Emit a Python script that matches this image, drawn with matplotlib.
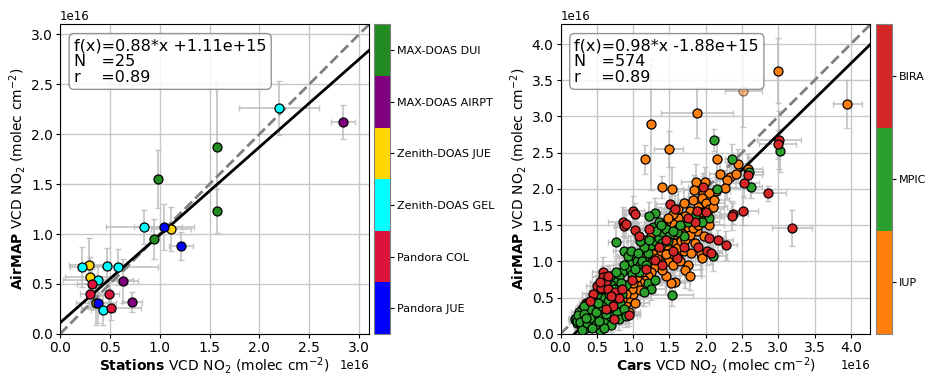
import numpy as np
import matplotlib.pyplot as plt
from matplotlib.colors import ListedColormap, BoundaryNorm
from matplotlib.cm import ScalarMappable
from matplotlib.ticker import MultipleLocator

SCALE = 1e16

# Stations panel: (x, y, xerr, yerr) in units of 1e16 molec cm-2
station_names = ["Pandora JUE", "Pandora COL", "Zenith-DOAS GEL",
                 "Zenith-DOAS JUE", "MAX-DOAS AIRPT", "MAX-DOAS DUI"]
station_colors = ["blue", "crimson", "cyan", "gold", "purple", "forestgreen"]
zen_jue = [(1.11, 1.05, 0.20, 0.22), (0.29, 0.69, 0.20, 0.27),
           (0.30, 0.57, 0.25, 0.20), (0.36, 0.31, 0.20, 0.22)]
pandora_jue = [(1.04, 1.07, 0.30, 0.23), (1.21, 0.88, 0.12, 0.14),
               (0.38, 0.31, 0.10, 0.20)]
zen_gel = [(2.20, 2.26, 0.40, 0.27), (0.84, 1.07, 0.38, 0.17),
           (0.22, 0.67, 0.12, 0.20), (0.47, 0.68, 0.20, 0.18),
           (0.585, 0.67, 0.40, 0.18), (0.38, 0.54, 0.35, 0.15),
           (0.435, 0.24, 0.12, 0.15)]
pandora_col = [(0.32, 0.50, 0.15, 0.22), (0.30, 0.40, 0.10, 0.15),
               (0.49, 0.40, 0.10, 0.12), (0.51, 0.26, 0.30, 0.12)]
maxdoas_airpt = [(2.84, 2.12, 0.12, 0.17), (0.635, 0.53, 0.15, 0.22),
                 (0.72, 0.32, 0.10, 0.10)]
maxdoas_dui = [(0.98, 1.55, 0.02, 0.29), (1.575, 1.87, 0.02, 0.66),
               (1.57, 1.23, 0.02, 0.22), (0.94, 0.95, 0.03, 0.20)]
station_series = [(zen_jue, "gold"), (pandora_jue, "blue"), (zen_gel, "cyan"),
                  (pandora_col, "crimson"), (maxdoas_airpt, "purple"),
                  (maxdoas_dui, "forestgreen")]
station_fit = (0.88, 1.11e15)
station_n, station_r = 25, 0.89

# Cars panel
car_names = ["IUP", "MPIC", "BIRA"]
car_colors = ["#ff7f0e", "#2ca02c", "#d62728"]
iup = [(3.00, 3.63, 0.02, 0.45), (3.95, 3.17, 0.20, 0.33), (1.88, 3.05, 0.50, 0.35),
       (1.24, 2.89, 0.05, 0.90), (1.49, 2.55, 0.20, 0.25), (1.17, 2.41, 0.03, 0.20),
       (2.15, 2.42, 0.05, 0.30), (2.45, 2.35, 0.10, 0.20), (1.40, 2.03, 0.05, 0.15),
       (1.54, 2.00, 0.15, 0.30), (1.86, 2.10, 0.20, 0.25), (1.99, 2.10, 0.15, 0.20),
       (1.84, 1.99, 0.15, 0.20), (1.96, 1.93, 0.20, 0.25), (2.20, 2.21, 0.15, 0.20),
       (2.33, 2.17, 0.20, 0.15), (2.42, 2.21, 0.10, 0.20), (2.29, 2.12, 0.15, 0.25),
       (2.58, 2.28, 0.20, 0.20), (2.27, 2.01, 0.25, 0.25), (2.14, 1.97, 0.20, 0.20),
       (2.05, 1.95, 0.15, 0.20), (1.95, 1.88, 0.20, 0.25), (2.00, 1.80, 0.25, 0.20),
       (2.05, 1.72, 0.20, 0.25), (1.90, 1.75, 0.15, 0.20), (1.85, 1.65, 0.20, 0.25),
       (1.78, 1.70, 0.20, 0.20), (1.72, 1.62, 0.15, 0.25), (1.68, 1.55, 0.20, 0.20),
       (1.62, 1.60, 0.15, 0.20), (1.55, 1.52, 0.20, 0.25), (1.60, 1.45, 0.20, 0.20),
       (1.50, 1.42, 0.15, 0.20), (1.45, 1.35, 0.20, 0.25), (1.52, 1.30, 0.20, 0.20),
       (1.40, 1.28, 0.15, 0.20), (1.35, 1.22, 0.20, 0.20), (1.30, 1.18, 0.15, 0.25),
       (1.42, 1.15, 0.20, 0.20), (1.50, 1.20, 0.15, 0.20), (1.58, 1.25, 0.20, 0.25),
       (1.65, 1.32, 0.20, 0.20), (1.70, 1.40, 0.15, 0.20), (1.75, 1.48, 0.20, 0.25),
       (1.80, 1.55, 0.20, 0.20), (1.92, 1.58, 0.15, 0.20), (2.00, 1.62, 0.20, 0.25),
       (2.10, 1.75, 0.20, 0.20), (1.68, 1.22, 0.15, 0.20), (1.62, 1.12, 0.20, 0.25),
       (1.55, 1.08, 0.20, 0.20), (1.48, 1.00, 0.15, 0.20), (1.38, 0.98, 0.20, 0.25),
       (1.30, 0.92, 0.20, 0.20), (1.25, 0.85, 0.15, 0.20), (1.20, 0.80, 0.20, 0.20),
       (1.15, 0.75, 0.20, 0.25), (1.10, 0.72, 0.15, 0.20), (1.05, 0.68, 0.20, 0.20),
       (1.22, 1.02, 0.20, 0.20), (1.18, 1.30, 0.15, 0.25), (1.25, 1.35, 0.20, 0.20),
       (1.45, 1.55, 0.20, 0.25), (1.35, 1.45, 0.15, 0.20), (1.55, 1.65, 0.20, 0.20),
       (1.62, 1.72, 0.20, 0.25), (1.88, 1.42, 0.20, 0.20), (1.93, 1.10, 0.25, 0.20),
       (1.95, 1.05, 0.20, 0.25), (1.75, 0.95, 0.20, 0.20), (1.72, 0.88, 0.20, 0.25),
       (1.78, 0.80, 0.15, 0.20), (1.58, 0.72, 0.20, 0.20), (1.52, 0.70, 0.20, 0.20),
       (1.45, 0.80, 0.20, 0.25), (1.40, 0.88, 0.15, 0.20), (1.55, 0.95, 0.20, 0.20),
       (1.65, 1.00, 0.20, 0.25), (1.85, 1.25, 0.20, 0.20), (1.98, 1.35, 0.15, 0.20),
       (1.70, 1.15, 0.20, 0.20), (0.50, 0.45, 0.15, 0.15), (0.55, 0.40, 0.15, 0.15),
       (0.60, 0.48, 0.20, 0.15), (0.65, 0.42, 0.15, 0.20), (0.70, 0.47, 0.15, 0.15),
       (0.75, 0.38, 0.20, 0.15), (0.80, 0.44, 0.15, 0.20), (0.85, 0.36, 0.15, 0.15),
       (0.90, 0.42, 0.20, 0.15), (0.95, 0.50, 0.15, 0.20), (1.00, 0.55, 0.20, 0.15),
       (0.62, 0.55, 0.15, 0.15), (0.72, 0.58, 0.15, 0.20), (0.82, 0.60, 0.20, 0.15),
       (0.92, 0.62, 0.15, 0.20), (0.45, 0.35, 0.15, 0.15), (0.40, 0.30, 0.10, 0.15),
       (0.52, 0.30, 0.15, 0.10), (0.58, 0.25, 0.15, 0.15), (0.68, 0.32, 0.15, 0.15),
       (0.88, 0.28, 0.20, 0.15), (0.95, 0.30, 0.15, 0.15), (0.35, 0.42, 0.10, 0.15),
       (0.30, 0.35, 0.10, 0.10), (1.02, 0.42, 0.20, 0.15), (1.10, 0.60, 0.20, 0.20),
       (0.78, 0.52, 0.15, 0.15), (1.12, 0.98, 0.20, 0.20), (1.18, 1.08, 0.15, 0.20),
       (1.28, 1.10, 0.20, 0.20), (1.33, 1.05, 0.15, 0.20), (1.38, 1.15, 0.20, 0.20),
       (1.46, 1.22, 0.15, 0.20), (1.52, 1.12, 0.20, 0.20), (1.60, 1.18, 0.20, 0.20),
       (1.66, 1.28, 0.15, 0.20), (1.72, 1.30, 0.20, 0.20), (1.78, 1.36, 0.20, 0.20),
       (1.82, 1.46, 0.15, 0.20), (1.90, 1.50, 0.20, 0.20), (1.98, 1.55, 0.20, 0.20),
       (2.05, 1.50, 0.20, 0.20), (1.82, 1.85, 0.20, 0.20), (1.70, 1.80, 0.15, 0.20),
       (1.48, 1.60, 0.20, 0.20), (1.42, 1.48, 0.20, 0.20), (1.36, 1.38, 0.15, 0.20),
       (1.26, 1.26, 0.20, 0.20), (1.20, 1.20, 0.15, 0.20), (0.98, 0.62, 0.15, 0.15),
       (1.05, 0.78, 0.20, 0.15), (1.12, 0.85, 0.15, 0.20), (1.00, 0.70, 0.15, 0.15),
       (0.90, 0.55, 0.15, 0.15), (0.84, 0.48, 0.15, 0.15), (0.76, 0.45, 0.15, 0.15),
       (0.68, 0.52, 0.15, 0.15), (0.60, 0.40, 0.15, 0.15), (0.54, 0.50, 0.15, 0.15),
       (0.46, 0.42, 0.15, 0.15), (0.42, 0.25, 0.10, 0.15), (1.45, 1.10, 0.20, 0.20),
       (1.58, 1.38, 0.20, 0.20), (1.64, 1.48, 0.20, 0.20), (1.92, 1.68, 0.20, 0.20),
       (2.12, 1.85, 0.20, 0.20), (1.80, 1.12, 0.20, 0.20)]
iup_faint = [(2.52, 3.35, 0.25, 0.50)]
mpic = [(2.11, 2.68, 0.03, 0.15), (2.36, 2.42, 0.10, 0.20), (2.59, 2.24, 0.20, 0.20),
        (2.62, 2.02, 0.15, 0.15), (3.02, 2.53, 0.05, 0.30), (2.16, 2.00, 0.15, 0.20),
        (0.76, 1.27, 0.10, 0.20), (0.87, 1.15, 0.15, 0.20), (1.53, 0.54, 0.30, 0.15),
        (1.30, 1.67, 0.15, 0.20), (1.22, 1.62, 0.15, 0.20), (2.05, 1.60, 0.20, 0.20),
        (2.10, 1.07, 0.20, 0.20), (1.95, 1.55, 0.15, 0.20), (1.75, 1.55, 0.20, 0.20),
        (1.70, 1.35, 0.15, 0.20), (1.60, 1.40, 0.20, 0.20), (1.00, 1.05, 0.20, 0.20),
        (0.95, 0.98, 0.15, 0.20), (1.05, 1.00, 0.20, 0.15), (1.10, 0.95, 0.15, 0.20),
        (0.92, 0.90, 0.20, 0.20), (0.98, 0.82, 0.15, 0.15), (1.08, 0.85, 0.20, 0.20),
        (1.15, 1.05, 0.15, 0.20), (1.20, 1.12, 0.20, 0.20), (1.25, 1.22, 0.15, 0.15),
        (1.30, 1.28, 0.20, 0.20), (1.35, 1.32, 0.15, 0.20), (1.40, 1.40, 0.20, 0.20),
        (1.45, 1.45, 0.15, 0.20), (1.50, 1.35, 0.20, 0.15), (1.55, 1.42, 0.15, 0.20),
        (1.40, 1.25, 0.20, 0.20), (1.28, 1.48, 0.15, 0.20), (1.35, 1.55, 0.20, 0.20),
        (1.15, 1.20, 0.15, 0.15), (1.10, 1.28, 0.20, 0.20), (1.20, 0.70, 0.15, 0.20),
        (1.25, 0.62, 0.20, 0.15), (1.15, 0.58, 0.15, 0.20), (1.30, 0.75, 0.20, 0.20),
        (0.85, 0.85, 0.15, 0.15), (0.80, 0.78, 0.15, 0.20), (0.75, 0.72, 0.15, 0.15),
        (0.70, 0.68, 0.15, 0.15), (0.65, 0.62, 0.15, 0.20), (0.90, 0.68, 0.15, 0.15),
        (0.20, 0.20, 0.10, 0.10), (0.22, 0.15, 0.10, 0.10), (0.25, 0.22, 0.10, 0.15),
        (0.28, 0.12, 0.10, 0.10), (0.30, 0.25, 0.10, 0.15), (0.32, 0.18, 0.15, 0.10),
        (0.35, 0.30, 0.10, 0.15), (0.38, 0.22, 0.15, 0.10), (0.40, 0.15, 0.10, 0.10),
        (0.42, 0.38, 0.15, 0.15), (0.45, 0.28, 0.15, 0.15), (0.48, 0.20, 0.10, 0.10),
        (0.50, 0.10, 0.15, 0.10), (0.52, 0.35, 0.15, 0.15), (0.55, 0.22, 0.15, 0.15),
        (0.58, 0.50, 0.15, 0.15), (0.60, 0.32, 0.15, 0.15), (0.62, 0.18, 0.15, 0.10),
        (0.65, 0.45, 0.15, 0.15), (0.68, 0.25, 0.15, 0.15), (0.70, 0.12, 0.15, 0.10),
        (0.72, 0.38, 0.15, 0.15), (0.75, 0.52, 0.15, 0.15), (0.78, 0.30, 0.15, 0.15),
        (0.80, 0.20, 0.15, 0.15), (0.82, 0.42, 0.15, 0.15), (0.85, 0.55, 0.15, 0.15),
        (0.88, 0.35, 0.15, 0.15), (0.90, 0.25, 0.15, 0.15), (0.30, 0.10, 0.10, 0.10),
        (0.35, 0.08, 0.10, 0.10), (0.25, 0.30, 0.10, 0.10), (0.38, 0.42, 0.10, 0.15),
        (0.45, 0.48, 0.15, 0.15), (0.55, 0.05, 0.15, 0.10), (0.60, 0.08, 0.15, 0.10),
        (0.50, 0.55, 0.15, 0.15), (0.55, 0.62, 0.15, 0.15), (0.62, 0.72, 0.15, 0.15),
        (0.68, 0.80, 0.15, 0.15), (0.40, 0.35, 0.10, 0.15), (0.33, 0.38, 0.10, 0.10),
        (0.47, 0.12, 0.10, 0.10), (0.21, 0.22, 0.10, 0.10), (0.23, 0.18, 0.10, 0.10),
        (0.24, 0.26, 0.10, 0.10), (0.27, 0.17, 0.10, 0.10), (0.29, 0.05, 0.10, 0.10),
        (0.33, 0.27, 0.10, 0.10), (0.36, 0.15, 0.10, 0.10), (0.41, 0.22, 0.10, 0.10),
        (0.44, 0.08, 0.10, 0.10), (0.49, 0.30, 0.15, 0.15), (0.53, 0.18, 0.15, 0.10),
        (0.57, 0.38, 0.15, 0.15), (0.63, 0.28, 0.15, 0.15), (0.67, 0.55, 0.15, 0.15),
        (0.73, 0.62, 0.15, 0.15), (0.77, 0.85, 0.15, 0.20), (0.83, 0.70, 0.15, 0.15),
        (0.87, 0.95, 0.15, 0.20), (0.93, 1.08, 0.15, 0.20), (0.97, 1.15, 0.15, 0.20),
        (1.02, 0.90, 0.20, 0.20), (1.07, 1.12, 0.20, 0.20), (1.12, 1.00, 0.20, 0.20),
        (1.18, 0.95, 0.20, 0.20), (1.22, 1.30, 0.20, 0.20), (1.32, 1.42, 0.20, 0.20),
        (1.38, 1.50, 0.20, 0.20), (1.48, 1.28, 0.20, 0.20), (1.65, 1.50, 0.20, 0.20),
        (1.85, 1.62, 0.20, 0.20), (0.52, 0.42, 0.15, 0.15), (0.35, 0.22, 0.10, 0.10)]
bira = [(3.01, 2.68, 0.30, 0.40), (2.99, 2.62, 0.25, 0.20), (2.58, 2.19, 0.20, 0.15),
        (2.53, 2.08, 0.20, 0.20), (2.86, 1.94, 0.25, 0.10), (1.96, 2.02, 0.20, 0.20),
        (3.19, 1.46, 0.28, 0.25), (2.52, 1.70, 0.20, 0.20), (2.38, 1.66, 0.20, 0.15),
        (2.36, 1.63, 0.15, 0.20), (2.05, 1.33, 0.20, 0.20), (2.17, 1.29, 0.20, 0.15),
        (2.28, 1.22, 0.15, 0.20), (2.02, 1.15, 0.20, 0.20), (2.07, 1.12, 0.15, 0.15),
        (1.51, 1.79, 0.20, 0.20), (1.00, 1.70, 0.15, 0.20), (1.02, 1.66, 0.15, 0.15),
        (0.86, 1.55, 0.20, 0.20), (0.88, 1.49, 0.15, 0.15), (0.90, 1.52, 0.15, 0.20),
        (1.03, 1.43, 0.15, 0.15), (0.59, 0.86, 0.15, 0.20), (0.58, 0.78, 0.15, 0.15),
        (0.62, 0.72, 0.15, 0.15), (0.50, 0.66, 0.15, 0.15), (0.56, 0.64, 0.15, 0.15),
        (0.66, 0.62, 0.15, 0.15), (0.75, 0.58, 0.15, 0.15), (0.95, 0.26, 0.15, 0.15),
        (0.74, 0.20, 0.15, 0.10), (0.72, 0.38, 0.15, 0.15), (1.58, 1.72, 0.20, 0.20),
        (1.85, 1.55, 0.20, 0.20), (1.70, 1.20, 0.20, 0.20), (1.60, 1.05, 0.20, 0.15),
        (1.45, 1.30, 0.15, 0.20), (1.30, 1.02, 0.20, 0.20), (1.40, 0.95, 0.15, 0.15),
        (1.18, 0.90, 0.15, 0.20), (1.88, 1.70, 0.20, 0.20), (1.90, 1.20, 0.20, 0.20),
        (0.80, 0.50, 0.15, 0.15), (0.45, 0.55, 0.15, 0.15), (0.62, 0.35, 0.15, 0.15),
        (0.55, 0.72, 0.15, 0.15), (0.65, 0.80, 0.15, 0.15), (0.70, 0.52, 0.15, 0.15),
        (0.85, 0.62, 0.15, 0.15), (1.08, 1.35, 0.15, 0.20), (1.22, 1.45, 0.20, 0.20),
        (1.55, 1.15, 0.20, 0.20), (1.75, 1.60, 0.20, 0.20), (2.00, 1.68, 0.20, 0.20),
        (0.40, 0.45, 0.10, 0.15), (0.98, 0.75, 0.15, 0.15), (1.35, 1.20, 0.20, 0.20)]
car_series = [(iup, "#ff7f0e"), (mpic, "#2ca02c"), (bira, "#d62728")]
car_fit = (0.98, -1.88e15)
car_n, car_r = 574, 0.89


def draw_series(ax, data, color, alpha=1.0):
    arr = np.array(data) * SCALE
    ax.errorbar(arr[:, 0], arr[:, 1], xerr=arr[:, 2], yerr=arr[:, 3], fmt="none",
                ecolor="#bdbdbd", elinewidth=1.3, capsize=2, alpha=0.85, zorder=2)
    ax.scatter(arr[:, 0], arr[:, 1], s=42, c=color, edgecolors="black",
               linewidths=0.9, alpha=alpha, zorder=3)


def finish_axes(ax, lim, fit, n, r, xname):
    x = np.linspace(0, lim, 10)
    ax.plot(x, x, "--", color="grey", lw=2, zorder=2.5)
    ax.plot(x, fit[0] * x + fit[1], "-", color="black", lw=2, zorder=2.5)
    ax.set_xlim(0, lim)
    ax.set_ylim(0, lim)
    ax.xaxis.set_major_locator(MultipleLocator(0.5 * SCALE))
    ax.yaxis.set_major_locator(MultipleLocator(0.5 * SCALE))
    ax.grid(True, color="#c8c8c8", lw=1)
    ax.set_axisbelow(True)
    ax.tick_params(labelsize=10, length=3, pad=2)
    ax.xaxis.get_offset_text().set_fontsize(8.5)
    ax.yaxis.get_offset_text().set_fontsize(8.5)
    ax.set_xlabel(r"$\bf{" + xname + r"}$ VCD NO$_2$ (molec cm$^{-2}$)",
                  fontsize=10, labelpad=0)
    ax.set_ylabel(r"$\bf{AirMAP}$ VCD NO$_2$ (molec cm$^{-2}$)",
                  fontsize=10, labelpad=2)
    txt = f"f(x)={fit[0]:.2f}*x {fit[1]:+.2e}\nN   ={n}\nr    ={r:.2f}"
    ax.text(0.045, 0.955, txt, transform=ax.transAxes, va="top", ha="left",
            fontsize=11.5, linespacing=1.05, zorder=6,
            bbox=dict(boxstyle="round,pad=0.3", fc="white", ec="grey", alpha=0.85))


def add_cbar(fig, rect, colors, names):
    cax = fig.add_axes(rect)
    cmap = ListedColormap(colors)
    norm = BoundaryNorm(np.arange(len(colors) + 1), cmap.N)
    cb = fig.colorbar(ScalarMappable(norm=norm, cmap=cmap), cax=cax)
    cb.set_ticks(np.arange(len(colors)) + 0.5)
    cb.set_ticklabels(names)
    cb.ax.minorticks_off()
    cb.ax.tick_params(labelsize=8, length=3, pad=2)
    cb.outline.set_edgecolor("grey")


fig = plt.figure(figsize=(9.25, 3.76), dpi=100)
ax1 = fig.add_axes([0.0649, 0.112, 0.334, 0.823])
ax2 = fig.add_axes([0.606, 0.112, 0.335, 0.823])

for data, color in station_series:
    draw_series(ax1, data, color)
finish_axes(ax1, 3.1e16, station_fit, station_n, station_r, "Stations")
add_cbar(fig, [0.4043, 0.112, 0.0173, 0.823], station_colors, station_names)

draw_series(ax2, iup_faint, "#ff7f0e", alpha=0.5)
for data, color in car_series:
    draw_series(ax2, data, color)
finish_axes(ax2, 4.27e16, car_fit, car_n, car_r, "Cars")
add_cbar(fig, [0.947, 0.112, 0.017, 0.823], car_colors, car_names)

fig.savefig("out.png", dpi=100)
